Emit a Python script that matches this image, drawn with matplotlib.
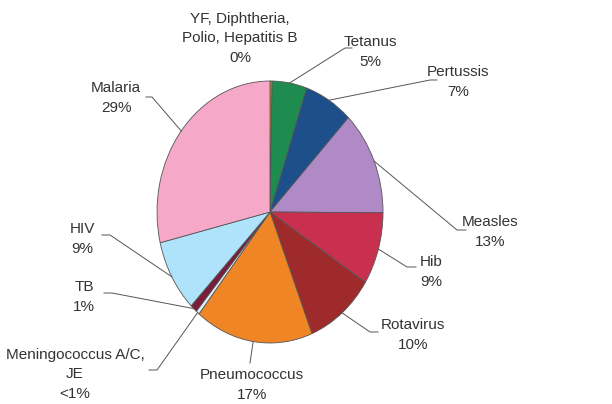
import numpy as np
import matplotlib.pyplot as plt

# vaccine-preventable deaths share, clockwise from the top
names = ["YF, Diphtheria,\nPolio, Hepatitis B", "Tetanus", "Pertussis", "Measles", "Hib",
         "Rotavirus", "Pneumococcus", "Meningococcus A/C,\nJE", "TB", "HIV", "Malaria"]
values = [0.3, 5, 7, 13, 9, 10, 17, 0.5, 1, 9, 29]
pct_labels = ["0%", "5%", "7%", "13%", "9%", "10%", "17%", "<1%", "1%", "9%", "29%"]
colors = ["#f0a030", "#1e8c4e", "#1d4f8a", "#b08ac6", "#c9304f", "#9e2a2b",
          "#f08526", "#dff2fb", "#7a1c3a", "#aee3fb", "#f5a8c8"]

# pie centre / radii in pixels (the original is slightly squashed)
CX, CY, RX, RY = 270, 212, 113, 131
W, H = 612, 404

def P(px, py):
    return (px - CX) / RX, (CY - py) / RY

plt.rcParams['font.family'] = ['Liberation Sans', 'DejaVu Sans']

fig = plt.figure(figsize=(W / 100, H / 100), dpi=100)
ax = fig.add_axes([0, 0, 1, 1])
wedges, _ = ax.pie(values, colors=colors, startangle=90, counterclock=False,
                   radius=1, wedgeprops=dict(edgecolor="#555555", linewidth=0.6))
ax.set_aspect('auto')
ax.set_xlim(-CX / RX, (W - CX) / RX)
ax.set_ylim(-(H - CY) / RY, CY / RY)
ax.axis('off')

# label text position (px) and leader elbow / end (px), None = no leader
layout = [
    ((240, 38), None, None),
    ((370, 52), (345, 48), (352, 48)),
    ((458, 82), (430, 80), (437, 80)),
    ((490, 232), (457, 230), (466, 230)),
    ((431, 272), (407, 267), (416, 267)),
    ((413, 335), (370, 332), (378, 332)),
    ((252, 385), (250, 363), (250, 363)),
    ((75, 374), (157, 370), (149, 370)),
    ((84, 297), (112, 293), (104, 293)),
    ((82, 239), (110, 235), (102, 235)),
    ((116, 98), (152, 97), (146, 97)),
]

for w, name, pct, (tpos, elbow, end) in zip(wedges, names, pct_labels, layout):
    ax.text(*P(*tpos), name + "\n" + pct, ha="center", va="center",
            fontsize=11, color="#333333", linespacing=1.5)
    if elbow is None:
        continue
    mid = np.deg2rad((w.theta1 + w.theta2) / 2)
    sx, sy = np.cos(mid) * 1.0, np.sin(mid) * 1.0
    ex, ey = P(*elbow)
    fx, fy = P(*end)
    ax.plot([sx, ex, fx], [sy, ey, fy], color="#555555", lw=0.7)

fig.savefig("out.png", dpi=100)
